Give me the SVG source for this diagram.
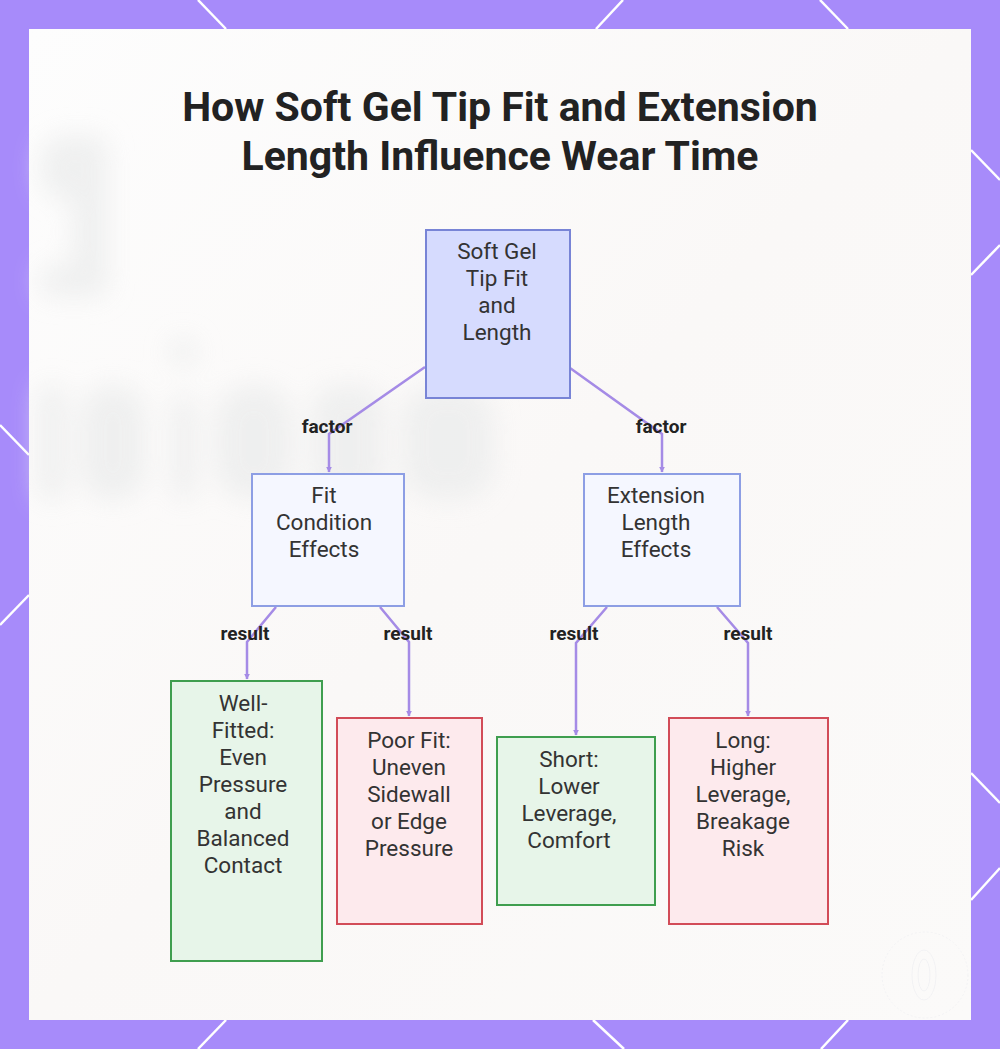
<svg xmlns="http://www.w3.org/2000/svg" width="1000" height="1049" viewBox="0 0 1000 1049">
<defs>
<style>
.edge{fill:none;stroke:#a58be6;stroke-width:2.5;}
.nt{font-family:Roboto,"Liberation Sans",sans-serif;font-size:22.5px;fill:#333333;text-anchor:middle;}
.lbl{font-family:Roboto,"Liberation Sans",sans-serif;font-size:19px;font-weight:bold;fill:#222222;text-anchor:middle;}
.title{font-family:Roboto,"Liberation Sans",sans-serif;font-size:41px;font-weight:bold;fill:#222222;text-anchor:middle;}
.root{fill:#d6dbfe;stroke:#7884d6;stroke-width:2;}
.mid{fill:#f5f7ff;stroke:#8d9ee4;stroke-width:2;}
.good{fill:#e7f5e9;stroke:#3f9e4f;stroke-width:2;}
.bad{fill:#fdeaed;stroke:#d24c58;stroke-width:2;}
.hex{stroke:#ffffff;stroke-width:2.5;fill:none;}
</style>
<marker id="arr" viewBox="0 0 10 10" refX="9" refY="5" markerWidth="6" markerHeight="6" markerUnits="userSpaceOnUse" orient="auto">
<path d="M0,0 L10,5 L0,10 z" fill="#a58be6"/>
</marker>
<filter id="blur" x="-30%" y="-30%" width="160%" height="160%"><feGaussianBlur stdDeviation="13"/></filter>
<linearGradient id="panel" x1="0" y1="0" x2="1" y2="1">
<stop offset="0" stop-color="#fdfdfd"/>
<stop offset="0.5" stop-color="#faf8f7"/>
<stop offset="1" stop-color="#fbfaf9"/>
</linearGradient>
</defs>
<rect x="0" y="0" width="1000" height="1049" fill="#a78bfa"/>
<g class="hex">
<line x1="198" y1="0" x2="226" y2="29"/>
<line x1="623" y1="0" x2="596" y2="29"/>
<line x1="820" y1="0" x2="848" y2="29"/>
<line x1="226" y1="1020" x2="198" y2="1049"/>
<line x1="593" y1="1020" x2="624" y2="1049"/>
<line x1="848" y1="1020" x2="821" y2="1049"/>
<line x1="0" y1="425" x2="29" y2="455"/>
<line x1="0" y1="625" x2="29" y2="595"/>
<line x1="971" y1="150" x2="1000" y2="180"/>
<line x1="971" y1="275" x2="1000" y2="245"/>
<line x1="971" y1="773" x2="1000" y2="803"/>
<line x1="971" y1="900" x2="1000" y2="868"/>
</g>
<rect x="29" y="29" width="942" height="991" fill="url(#panel)"/>
<g filter="url(#blur)" fill="#eceded" opacity="0.8">
<rect x="40" y="135" width="65" height="65" rx="25"/>
<rect x="72" y="135" width="36" height="160" rx="15"/>
<rect x="40" y="265" width="68" height="32" rx="12"/>
<rect x="38" y="385" width="28" height="115" rx="10"/>
<rect x="80" y="385" width="66" height="115" rx="30"/>
<rect x="172" y="395" width="24" height="105" rx="10"/>
<circle cx="183" cy="352" r="14"/>
<rect x="215" y="385" width="78" height="115" rx="35"/>
<rect x="312" y="385" width="72" height="115" rx="25"/>
<rect x="402" y="385" width="92" height="115" rx="35"/>
</g>
<text class="title" x="500" y="121">How Soft Gel Tip Fit and Extension</text>
<text class="title" x="500" y="170">Length Influence Wear Time</text>
<g fill="none" stroke="#f1f1f3" stroke-width="1" opacity="0.9">
<circle cx="925" cy="975" r="43" stroke-dasharray="2 2"/>
<ellipse cx="924" cy="975" rx="12" ry="25"/>
<ellipse cx="924" cy="975" rx="6" ry="16"/>
</g>
<g id="connectors">
<path class="edge" d="M425,367 L329,434 L329,472" marker-end="url(#arr)"/>
<path class="edge" d="M570,368 L662,434 L662,472" marker-end="url(#arr)"/>
<path class="edge" d="M276,607 L247,642 L247,679" marker-end="url(#arr)"/>
<path class="edge" d="M380,607 L409,642 L409,716" marker-end="url(#arr)"/>
<path class="edge" d="M607,607 L576,643 L576,735" marker-end="url(#arr)"/>
<path class="edge" d="M717,607 L748,643 L748,716" marker-end="url(#arr)"/>
<text class="lbl" x="327" y="433">factor</text>
<text class="lbl" x="661" y="433">factor</text>
<text class="lbl" x="245" y="640">result</text>
<text class="lbl" x="408" y="640">result</text>
<text class="lbl" x="574" y="640">result</text>
<text class="lbl" x="748" y="640">result</text>
</g>
<g id="root">
<rect class="root" x="426" y="230" width="144" height="168"/>
<text class="nt" x="497" y="259">Soft Gel</text>
<text class="nt" x="497" y="286">Tip Fit</text>
<text class="nt" x="497" y="313">and</text>
<text class="nt" x="497" y="340">Length</text>
</g>
<g id="fit">
<rect class="mid" x="252" y="474" width="152" height="132"/>
<text class="nt" x="324" y="503">Fit</text>
<text class="nt" x="324" y="530">Condition</text>
<text class="nt" x="324" y="557">Effects</text>
</g>
<g id="ext">
<rect class="mid" x="584" y="474" width="156" height="132"/>
<text class="nt" x="656" y="503">Extension</text>
<text class="nt" x="656" y="530">Length</text>
<text class="nt" x="656" y="557">Effects</text>
</g>
<g id="well">
<rect class="good" x="171" y="681" width="151" height="280"/>
<text class="nt" x="243" y="711">Well-</text>
<text class="nt" x="243" y="738">Fitted:</text>
<text class="nt" x="243" y="765">Even</text>
<text class="nt" x="243" y="792">Pressure</text>
<text class="nt" x="243" y="819">and</text>
<text class="nt" x="243" y="846">Balanced</text>
<text class="nt" x="243" y="873">Contact</text>
</g>
<g id="poor">
<rect class="bad" x="337" y="718" width="145" height="206"/>
<text class="nt" x="409" y="748">Poor Fit:</text>
<text class="nt" x="409" y="775">Uneven</text>
<text class="nt" x="409" y="802">Sidewall</text>
<text class="nt" x="409" y="829">or Edge</text>
<text class="nt" x="409" y="856">Pressure</text>
</g>
<g id="short">
<rect class="good" x="497" y="737" width="158" height="168"/>
<text class="nt" x="569" y="767">Short:</text>
<text class="nt" x="569" y="794">Lower</text>
<text class="nt" x="569" y="821">Leverage,</text>
<text class="nt" x="569" y="848">Comfort</text>
</g>
<g id="long">
<rect class="bad" x="669" y="718" width="159" height="206"/>
<text class="nt" x="743" y="748">Long:</text>
<text class="nt" x="743" y="775">Higher</text>
<text class="nt" x="743" y="802">Leverage,</text>
<text class="nt" x="743" y="829">Breakage</text>
<text class="nt" x="743" y="856">Risk</text>
</g>
</svg>
